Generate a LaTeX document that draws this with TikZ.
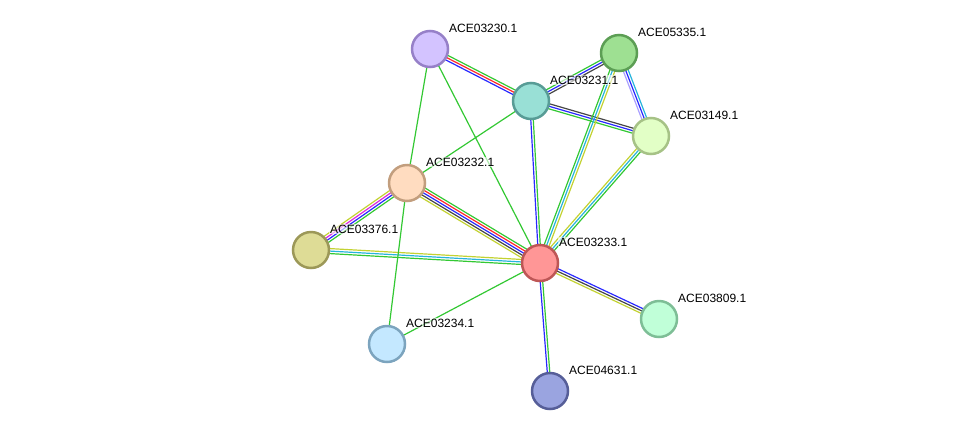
\documentclass[tikz,border=0pt]{standalone}
\usepackage{fontspec}
\setmainfont{Liberation Sans}
\usetikzlibrary{calc,backgrounds}
\definecolor{eg}{RGB}{51,200,51}
\definecolor{er}{RGB}{255,40,40}
\definecolor{eb}{RGB}{40,40,255}
\definecolor{ek}{RGB}{70,70,70}
\definecolor{ey}{RGB}{195,210,50}
\definecolor{ec}{RGB}{40,180,220}
\definecolor{em}{RGB}{220,40,220}
\definecolor{el}{RGB}{170,160,255}
\tikzset{prot/.style={circle,minimum size=36pt,inner sep=0pt,line width=2.5pt},
  lab/.style={anchor=west,font=\fontsize{12}{13}\selectfont,fill=white,fill opacity=0.6,text opacity=1,inner sep=1pt}}

\begin{document}
\begin{tikzpicture}[x=1pt,y=-1pt]
\useasboundingbox (0,0) rectangle (976,437);
\foreach \n/\x/\y/\f/\d in {03230/430/49/{rgb,255:red,211;green,195;blue,255}/{rgb,255:red,150;green,128;blue,200},
  05335/619/53/{rgb,255:red,158;green,224;blue,146}/{rgb,255:red,92;green,158;blue,84},
  03231/531/101/{rgb,255:red,153;green,224;blue,214}/{rgb,255:red,88;green,156;blue,150},
  03149/651/136/{rgb,255:red,226;green,255;blue,198}/{rgb,255:red,166;green,194;blue,134},
  03232/407/183/{rgb,255:red,255;green,220;blue,192}/{rgb,255:red,194;green,158;blue,126},
  03376/311/250/{rgb,255:red,222;green,220;blue,150}/{rgb,255:red,156;green,152;blue,88},
  03233/540/263/{rgb,255:red,255;green,150;blue,150}/{rgb,255:red,190;green,86;blue,86},
  03809/659/319/{rgb,255:red,192;green,255;blue,216}/{rgb,255:red,126;green,190;blue,150},
  03234/387/344/{rgb,255:red,196;green,232;blue,255}/{rgb,255:red,124;green,164;blue,190},
  04631/550/391/{rgb,255:red,154;green,164;blue,224}/{rgb,255:red,86;green,94;blue,152}}{
  \node[prot,fill={\f},draw={\d}] (p\n) at (\x,\y) {};
  \node[lab] (l\n) at ($(p\n.center)+(18,-21)$) {ACE\n.1};
}
\begin{scope}[on background layer]
\foreach \a/\b/\cols in {p03230/p03231/{eg/2.5,er/0,eb/-2.5},
  p03231/p05335/{eg/2.5,eb/0,ek/-2.5},
  p03231/p03149/{ek/2.5,eb/0,eg/-2.5},
  p05335/p03149/{ec/2.5,eb/0,el/-2.5},
  p05335/p03233/{ey/2.5,ec/0,eg/-2.5},
  p03149/p03233/{eg/2.5,ec/0,ey/-2.5},
  p03231/p03233/{eg/1.25,eb/-1.25},
  p03232/p03376/{eg/3.75,eb/1.25,em/-1.25,ey/-3.75},
  p03232/p03233/{eg/5,er/2.5,eb/0,ek/-2.5,ey/-5},
  p03376/p03233/{ey/2.5,ec/0,eg/-2.5},
  p03233/p03809/{eb/2.5,ek/0,ey/-2.5},
  p03233/p04631/{eg/1.25,eb/-1.25},
  p03230/p03232/{eg/0},p03230/p03233/{eg/0},p03231/p03232/{eg/0},
  p03232/p03234/{eg/0},p03233/p03234/{eg/0}}{
  \foreach \c/\o in \cols
    \draw[\c,line width=1.2pt] ($(\a.center)!\o pt!90:(\b.center)$) -- ($(\b.center)!\o pt!-90:(\a.center)$);
}
\end{scope}
\end{tikzpicture}
\end{document}
